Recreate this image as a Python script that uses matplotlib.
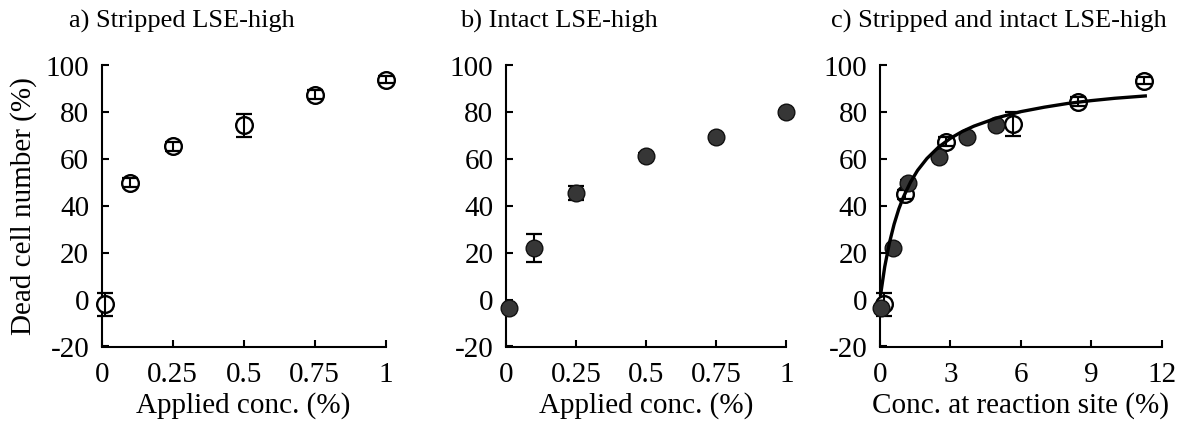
import matplotlib
matplotlib.use("Agg")
import matplotlib.pyplot as plt
import numpy as np

plt.rcParams['font.family'] = ['Liberation Serif', 'DejaVu Serif']

# Panel a: stripped LSE-high
a_x = [0.01, 0.1, 0.25, 0.5, 0.75, 1.0]
a_y = [-2, 50, 65.5, 74.5, 87.5, 94]
a_err = [5, 2, 2, 5, 2, 1.5]

# Panel b: intact LSE-high
b_x = [0.01, 0.1, 0.25, 0.5, 0.75, 1.0]
b_y = [-3.5, 22, 45.5, 61.5, 69.5, 80]
b_err = [1, 6, 3, 1, 1, 1]

# Panel c: concentration at reaction site
c_open_x = [0.15, 1.05, 2.8, 5.65, 8.45, 11.25]
c_open_y = [-2, 45, 67.5, 75, 84.5, 93.5]
c_open_err = [5, 2, 2, 5, 2, 1.5]
c_fill_x = [0.05, 0.55, 1.2, 2.5, 3.7, 4.95]
c_fill_y = [-3.5, 22, 50, 61, 69.5, 74.5]
c_fill_err = [1, 1, 1, 1, 1, 1]

# fitted curve
fit_x = [0.03, 0.2, 0.4, 0.6, 0.8, 1.0, 1.3, 1.6, 2.0, 2.5, 3.0, 3.5, 4.0,
         5.0, 6.0, 7.0, 8.0, 9.0, 10.0, 11.3]
fit_y = [2.4, 14.0, 24.2, 32.2, 38.7, 43.9, 50.2, 55.2, 60.3, 65.2, 68.9,
         71.8, 74.1, 77.7, 80.3, 82.2, 83.8, 85.0, 86.0, 87.0]

titles = ["a) Stripped LSE-high", "b) Intact LSE-high", "c) Stripped and intact LSE-high"]
xlabels = ["Applied conc. (%)", "Applied conc. (%)", "Conc. at reaction site (%)"]
ab_ticks = [0, 0.25, 0.5, 0.75, 1]
ab_ticklabels = ["0", "0.25", "0.5", "0.75", "1"]
c_ticks = [0, 3, 6, 9, 12]
y_ticks = [-20, 0, 20, 40, 60, 80, 100]

W, H = 1187, 423
fig = plt.figure(figsize=(W / 100, H / 100), dpi=100)

def px_axes(x0, x1, y_top, y_bot):
    return fig.add_axes([x0 / W, (H - y_bot) / H, (x1 - x0) / W, (y_bot - y_top) / H])

axa = px_axes(101.7, 385.5, 65.5, 346.5)
axb = px_axes(506, 786.5, 65.5, 346.5)
axc = px_axes(880, 1161.7, 65.5, 346.5)

LW = 1.5
MS = 12
open_m = dict(marker='o', ls='none', mfc='white', mec='black', mew=1.7, ms=MS, zorder=3)
fill_m = dict(marker='o', ls='none', mfc='#363636', mec='#111111', mew=1.0, ms=MS, zorder=3.5)
err_open = dict(fmt='none', ecolor='black', elinewidth=1.5, capsize=6, capthick=1.6, zorder=3.2)
err_fill = dict(fmt='none', ecolor='black', elinewidth=1.5, capsize=6, capthick=1.6, zorder=2)

axa.plot(a_x, a_y, **open_m)
axa.errorbar(a_x, a_y, yerr=a_err, **err_open)
axb.plot(b_x, b_y, **fill_m)
axb.errorbar(b_x, b_y, yerr=b_err, **err_fill)
axc.plot(fit_x, fit_y, color='black', lw=2.4, zorder=4)
axc.plot(c_open_x, c_open_y, **open_m)
axc.errorbar(c_open_x, c_open_y, yerr=c_open_err, **err_open)
axc.plot(c_fill_x, c_fill_y, **fill_m)
axc.errorbar(c_fill_x, c_fill_y, yerr=c_fill_err, **err_fill)

for i, ax in enumerate([axa, axb, axc]):
    ax.set_ylim(-20, 100)
    ax.spines['top'].set_visible(False)
    ax.spines['right'].set_visible(False)
    for s in ['left', 'bottom']:
        ax.spines[s].set_linewidth(LW)
    ax.set_yticks(y_ticks)
    ax.set_yticklabels([str(t) for t in y_ticks])
    ax.tick_params(direction='in', length=5, width=LW, labelsize=21)
    ax.tick_params(axis='y', pad=9)
    ax.tick_params(axis='x', pad=11)
    ax.set_xlabel(xlabels[i], fontsize=21, labelpad=3)

for ax in [axa, axb]:
    ax.set_xlim(0, 1)
    ax.set_xticks(ab_ticks)
    ax.set_xticklabels(ab_ticklabels)
axc.set_xlim(0, 12)
axc.set_xticks(c_ticks)
axc.set_xticklabels([str(t) for t in c_ticks])

for ax in [axa, axb, axc]:
    for art in ax.get_children():
        try:
            art.set_clip_on(False)
        except Exception:
            pass

axa.set_ylabel("Dead cell number (%)", fontsize=21, labelpad=6)

fig.text(182 / W, 1 - 21 / H, titles[0], ha='center', va='center', fontsize=19)
fig.text(559 / W, 1 - 21 / H, titles[1], ha='center', va='center', fontsize=19)
fig.text(999 / W, 1 - 21 / H, titles[2], ha='center', va='center', fontsize=19)

fig.savefig("out.png", dpi=100)
